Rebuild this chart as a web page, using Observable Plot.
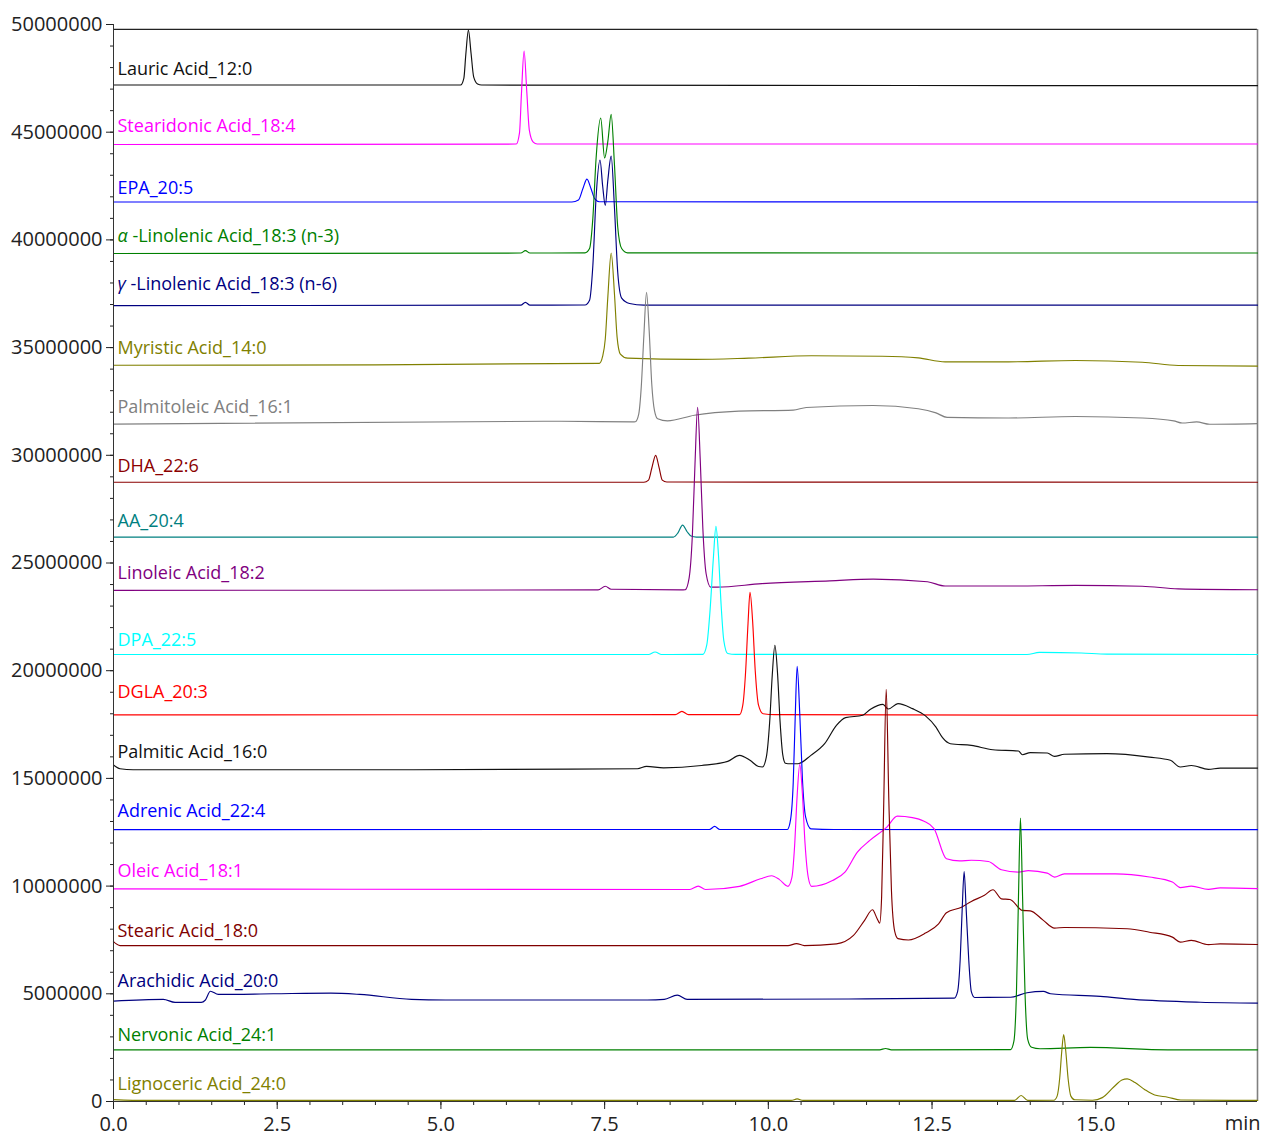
<!DOCTYPE html>
<html><head><meta charset="utf-8">
<script src="https://cdn.jsdelivr.net/npm/d3@7"></script>
<script src="https://cdn.jsdelivr.net/npm/@observablehq/plot@0.6"></script>
<style>body{margin:0;background:#fff}</style>
</head><body><div id="chart"></div>
<script>
// Series names, colours and label heights (values in millions of counts)
const names = ["Lauric Acid_12:0","Stearidonic Acid_18:4","EPA_20:5","α -Linolenic Acid_18:3 (n-3)","γ -Linolenic Acid_18:3 (n-6)","Myristic Acid_14:0","Palmitoleic Acid_16:1","DHA_22:6","AA_20:4","Linoleic Acid_18:2","DPA_22:5","DGLA_20:3","Palmitic Acid_16:0","Adrenic Acid_22:4","Oleic Acid_18:1","Stearic Acid_18:0","Arachidic Acid_20:0","Nervonic Acid_24:1","Lignoceric Acid_24:0"];
const colors = ["#111111","#ff00ff","#0000ff","#008000","#000080","#808000","#808080","#8b0000","#008080","#800080","#00ffff","#ff0000","#111111","#0000ff","#ff00ff","#800000","#000080","#008000","#808000"];
const labelValues = [47.93,45.29,42.41,40.18,37.95,34.97,32.23,29.49,26.94,24.52,21.41,19.0,16.21,13.47,10.68,7.9,5.57,3.07,0.79];

// Traces: [time (min), intensity (millions)]
const lauric = [[0,47.19],[5.30,47.19],[5.35,47.5],[5.38,48.6],[5.42,49.74],[5.46,48.67],[5.50,47.57],[5.56,47.24],[5.62,47.19],[17.47,47.16]];
const stearidonic = [[0,44.43],[6.15,44.45],[6.20,44.97],[6.23,46.8],[6.27,48.77],[6.31,46.95],[6.35,45.1],[6.41,44.54],[6.47,44.45],[17.47,44.45]];
const epa = [[0,41.76],[7.0,41.76],[7.1,41.85],[7.17,42.4],[7.23,42.82],[7.29,42.4],[7.35,41.9],[7.42,41.77],[17.47,41.76]];
const alphaLin = [[0,39.37],[6.22,39.39],[6.29,39.5],[6.36,39.39],[7.2,39.4],[7.27,39.6],[7.32,41],[7.37,43.8],[7.44,45.65],[7.5,43.8],[7.55,44.6],[7.6,45.83],[7.65,43.5],[7.7,40.6],[7.76,39.6],[7.85,39.4],[17.47,39.39]];
const gammaLin = [[0,36.95],[6.22,36.97],[6.29,37.1],[6.36,36.97],[7.2,36.98],[7.27,37.2],[7.32,38.8],[7.37,42.0],[7.43,43.71],[7.47,42.5],[7.51,41.6],[7.55,42.8],[7.6,43.89],[7.65,41.5],[7.7,38.5],[7.76,37.3],[7.88,37.05],[8.1,36.97],[17.47,36.97]];
const myristic = [[0,34.18],[4,34.2],[7.42,34.27],[7.47,34.6],[7.51,35.4],[7.55,37.4],[7.60,39.39],[7.65,37.5],[7.69,35.5],[7.74,34.7],[7.85,34.51],[8.87,34.45],[9.7,34.51],[10.66,34.62],[11.74,34.6],[12.29,34.52],[12.7,34.34],[13.67,34.34],[14.69,34.4],[15.71,34.32],[16.26,34.17],[17.47,34.14]];
const palmitoleic = [[0,31.45],[6.83,31.58],[7.93,31.55],[7.97,31.56],[8.02,31.9],[8.06,33.2],[8.10,35.6],[8.14,37.57],[8.18,35.8],[8.22,33.3],[8.26,32.1],[8.31,31.7],[8.46,31.6],[8.87,31.86],[9.55,32.05],[10.38,32.1],[10.58,32.22],[11.6,32.31],[12.29,32.16],[12.56,31.97],[12.73,31.76],[13.67,31.73],[14.69,31.8],[15.71,31.73],[16.19,31.6],[16.32,31.5],[16.54,31.55],[16.74,31.44],[17.47,31.47]];
const dha = [[0,28.75],[8.1,28.75],[8.17,28.85],[8.22,29.4],[8.28,30.0],[8.33,29.45],[8.38,28.85],[8.45,28.76],[17.47,28.75]];
const aa = [[0,26.2],[8.55,26.2],[8.62,26.4],[8.69,26.76],[8.76,26.45],[8.82,26.25],[8.9,26.2],[17.47,26.2]];
const linoleic = [[0,23.73],[7.4,23.75],[7.51,23.92],[7.6,23.78],[8.67,23.75],[8.73,23.76],[8.79,24.3],[8.84,26.3],[8.88,29.6],[8.92,32.23],[8.96,29.8],[9.0,26.6],[9.05,24.5],[9.12,23.88],[9.22,23.88],[9.9,24.04],[10.94,24.17],[11.6,24.25],[12.43,24.13],[12.7,23.93],[13.67,23.93],[14.69,23.96],[15.71,23.92],[16.26,23.8],[17.47,23.76]];
const dpa = [[0,20.75],[8.17,20.75],[8.27,20.87],[8.37,20.75],[9.0,20.76],[9.06,21.2],[9.11,22.8],[9.16,25.2],[9.2,26.7],[9.24,25.3],[9.28,23.0],[9.32,21.4],[9.38,20.8],[9.5,20.76],[13.95,20.75],[14.14,20.85],[14.78,20.82],[15.17,20.77],[17.47,20.75]];
const dgla = [[0,17.95],[8.58,17.96],[8.68,18.11],[8.78,17.96],[9.56,17.96],[9.61,18.4],[9.65,19.8],[9.69,22.2],[9.72,23.64],[9.76,22.3],[9.8,20.0],[9.85,18.4],[9.92,18.0],[10.1,17.96],[17.47,17.93]];
const palmitic = [[0,15.62],[0.1,15.45],[0.3,15.4],[4,15.4],[6,15.42],[8.0,15.45],[8.14,15.56],[8.4,15.49],[8.98,15.6],[9.38,15.79],[9.56,16.07],[9.72,15.84],[9.85,15.55],[9.91,15.53],[9.97,16.0],[10.02,17.6],[10.06,19.8],[10.1,21.18],[10.14,19.9],[10.18,17.6],[10.22,16.1],[10.26,15.7],[10.3,15.68],[10.45,15.68],[10.65,16.07],[10.86,16.61],[11.04,17.46],[11.18,17.82],[11.44,17.93],[11.56,18.21],[11.75,18.44],[11.83,18.22],[11.98,18.47],[12.2,18.24],[12.4,17.9],[12.56,17.38],[12.66,16.89],[12.78,16.61],[13.1,16.53],[13.43,16.33],[13.82,16.27],[13.88,16.1],[14.0,16.2],[14.26,16.18],[14.37,16.02],[14.52,16.12],[15.17,16.15],[15.82,15.99],[16.14,15.84],[16.29,15.53],[16.46,15.6],[16.72,15.42],[16.9,15.48],[17.47,15.48]];
const adrenic = [[0,12.62],[9.1,12.63],[9.18,12.77],[9.26,12.63],[10.29,12.63],[10.34,13.1],[10.38,14.8],[10.41,17.8],[10.44,20.2],[10.48,18.0],[10.52,15.0],[10.57,13.2],[10.65,12.66],[11,12.63],[17.47,12.62]];
const oleic = [[0,9.87],[8.8,9.84],[8.93,10.0],[9.04,9.84],[9.56,9.99],[9.88,10.34],[10.05,10.48],[10.17,10.3],[10.3,9.99],[10.36,10.4],[10.4,11.8],[10.44,14.2],[10.48,15.65],[10.52,14.3],[10.56,12.0],[10.61,10.4],[10.66,9.99],[10.98,10.26],[11.17,10.65],[11.36,11.58],[11.55,12.12],[11.81,12.74],[11.97,13.25],[12.2,13.18],[12.37,13.02],[12.53,12.67],[12.72,11.27],[12.92,11.17],[13.1,11.2],[13.36,11.14],[13.56,10.76],[13.82,10.65],[13.97,10.72],[14.26,10.6],[14.37,10.42],[14.52,10.57],[15.3,10.57],[15.82,10.42],[16.17,10.19],[16.29,9.93],[16.46,10.0],[16.72,9.85],[16.9,9.92],[17.47,9.88]];
const stearic = [[0,7.42],[0.1,7.24],[10.3,7.24],[10.43,7.33],[10.55,7.24],[11.04,7.32],[11.3,7.71],[11.47,8.41],[11.59,8.9],[11.66,8.5],[11.7,8.28],[11.73,9.5],[11.76,13.5],[11.8,19.14],[11.84,14.0],[11.88,9.8],[11.93,7.9],[11.98,7.56],[12.14,7.5],[12.4,7.82],[12.6,8.25],[12.72,8.76],[12.95,9.02],[13.1,9.29],[13.3,9.57],[13.43,9.83],[13.56,9.41],[13.69,9.38],[13.88,8.87],[14.0,8.85],[14.2,8.41],[14.37,8.05],[14.52,8.08],[15.48,8.02],[15.82,7.86],[16.17,7.63],[16.29,7.4],[16.46,7.48],[16.72,7.28],[16.9,7.32],[17.47,7.29]];
const arachidic = [[0,4.66],[0.76,4.74],[0.94,4.6],[1.34,4.6],[1.4,4.7],[1.48,5.12],[1.6,4.97],[2.44,5.0],[3.32,5.03],[3.76,4.97],[4.55,4.74],[5.07,4.71],[8.15,4.71],[8.41,4.74],[8.61,4.94],[8.76,4.74],[11.23,4.76],[12.84,4.8],[12.89,5.1],[12.93,6.6],[12.96,8.9],[12.99,10.68],[13.02,9.0],[13.06,6.6],[13.1,5.1],[13.15,4.83],[13.7,4.84],[13.95,5.05],[14.2,5.11],[14.31,5.0],[15.07,4.88],[15.58,4.74],[16.6,4.61],[17.47,4.57]];
const nervonic = [[0,2.4],[11.7,2.4],[11.79,2.46],[11.88,2.4],[13.7,2.41],[13.75,2.8],[13.79,5.2],[13.82,9.5],[13.85,13.16],[13.88,9.8],[13.92,5.0],[13.96,2.9],[14.02,2.52],[14.15,2.45],[14.92,2.51],[16.1,2.4],[17.47,2.4]];
const lignoceric = [[0,0.09],[0.5,0.05],[10.35,0.05],[10.44,0.12],[10.53,0.05],[13.76,0.05],[13.86,0.28],[13.96,0.05],[14.36,0.06],[14.41,0.25],[14.45,1.1],[14.48,2.3],[14.51,3.11],[14.54,2.4],[14.58,1.0],[14.62,0.25],[14.68,0.08],[14.95,0.06],[15.1,0.18],[15.27,0.66],[15.4,1.0],[15.48,1.05],[15.6,0.88],[15.75,0.55],[15.9,0.3],[16.1,0.2],[16.3,0.07],[17.47,0.05]];

const series = [lauric, stearidonic, epa, alphaLin, gammaLin, myristic, palmitoleic, dha, aa, linoleic, dpa, dgla, palmitic, adrenic, oleic, stearic, arachidic, nervonic, lignoceric];

const xTicks = [0, 2.5, 5, 7.5, 10, 12.5, 15];
const xMinor = d3.range(0, 17.5, 0.5);
const yTicks = d3.range(0, 50e6 + 1, 5e6);
const yMinor = d3.range(0, 50e6 + 1, 1e6);
const xMax = 17.47;
const frameTop = 49.77e6;

const labelData = names.map((n, i) => ({name: n, v: labelValues[i] * 1e6, color: colors[i]}));

const plot = Plot.plot({
  width: 1261, height: 1133,
  marginLeft: 113, marginRight: 4, marginTop: 24, marginBottom: 32,
  style: {fontFamily: "'Open Sans', sans-serif", fontSize: "20px", background: "#fff", color: "#222"},
  x: {domain: [0, xMax], label: null},
  y: {domain: [0, 50e6], label: null},
  marks: [
    Plot.axisY({ticks: yMinor, tickSize: 3, tickFormat: () => ""}),
    Plot.axisY({ticks: yTicks, tickSize: 7, tickPadding: 4, tickFormat: d => String(d), fontSize: 20}),
    Plot.axisX({ticks: xMinor, tickSize: 4, tickFormat: () => ""}),
    Plot.axisX({ticks: xTicks, tickSize: 8, tickPadding: 7, tickFormat: d => d.toFixed(1), fontSize: 20}),
    Plot.ruleY([frameTop], {stroke: "#222", strokeWidth: 1.2}),
    Plot.ruleX([xMax], {y1: 0, y2: frameTop, stroke: "#808080", strokeWidth: 1.6}),
    ...series.map((pts, i) => Plot.line(pts, {x: d => d[0], y: d => d[1] * 1e6, stroke: colors[i], strokeWidth: 1.15, curve: "monotone-x"})),
    ...labelData.map(d => Plot.text([d], {x: () => 0, y: "v", text: "name", fill: d.color, textAnchor: "start", dx: 4, fontSize: 18})),
    Plot.ruleX([0], {stroke: "#333"}),
    Plot.ruleY([0], {stroke: "#333"}),
    Plot.text(["min"], {x: () => xMax, y: () => 0, dx: 3, dy: 22, textAnchor: "end", fontSize: 20})
  ]
});

// Italic Greek prefixes
d3.select(plot).selectAll("text").each(function() {
  const t = this.textContent;
  if (t.startsWith("α ") || t.startsWith("γ ")) {
    const g = t[0], rest = t.slice(1);
    this.textContent = "";
    const s = d3.select(this);
    s.append("tspan").attr("font-style", "italic").text(g);
    s.append("tspan").text(rest);
  }
});

document.getElementById("chart").appendChild(plot);
</script>
</body></html>
